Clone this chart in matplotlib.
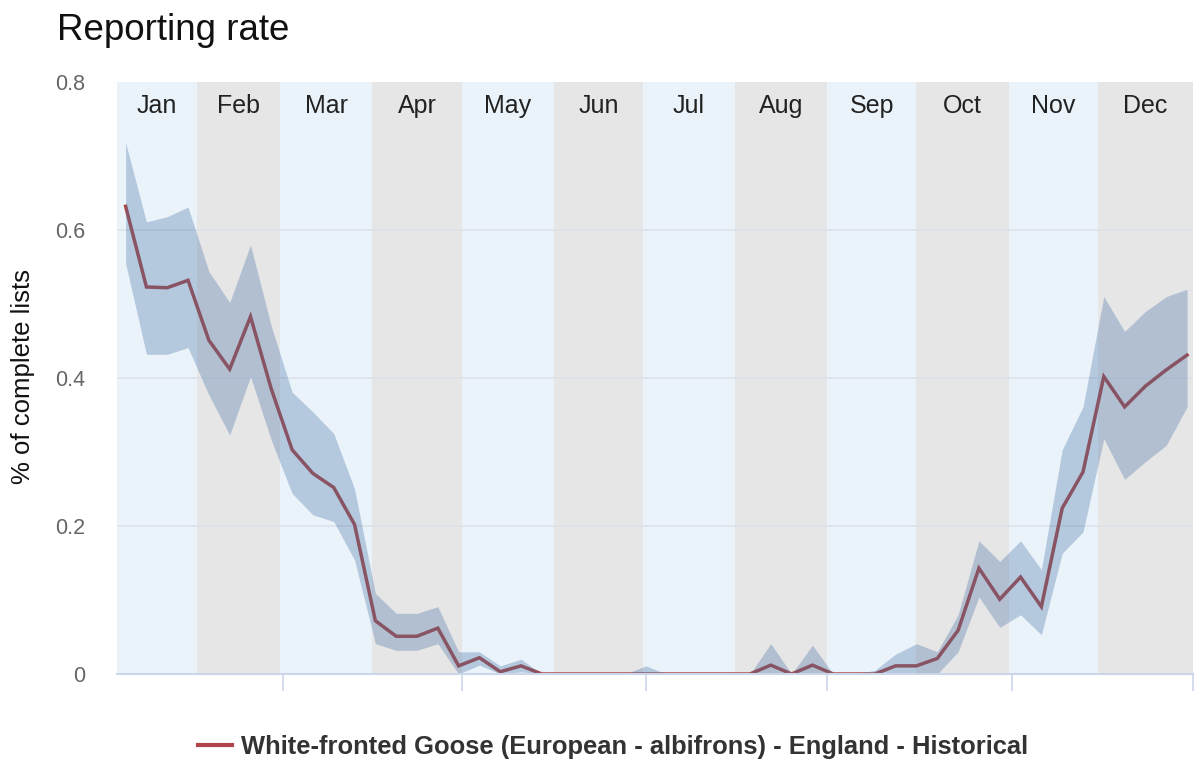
import matplotlib
matplotlib.use("Agg")
import matplotlib.pyplot as plt
from matplotlib.lines import Line2D
import numpy as np

plt.rcParams['font.family'] = ['Liberation Sans', 'DejaVu Sans']

# ---- data ----
months = ["Jan", "Feb", "Mar", "Apr", "May", "Jun", "Jul", "Aug", "Sep", "Oct", "Nov", "Dec"]
month_start_day = [4.1, 31, 59, 90, 120, 151, 181, 212, 243, 273, 304, 334, 366]
weeks = np.arange(1, 53)
rate = [0.632, 0.523, 0.522, 0.532, 0.451, 0.412, 0.483, 0.385, 0.303, 0.271,
        0.252, 0.202, 0.072, 0.051, 0.051, 0.062, 0.011, 0.022, 0.003, 0.011,
        0.0, 0.0, 0.0, 0.0, 0.0, 0.0, 0.0, 0.0, 0.0, 0.0,
        0.0, 0.012, 0.0, 0.012, 0.0, 0.0, 0.0, 0.011, 0.011, 0.021,
        0.059, 0.143, 0.101, 0.131, 0.091, 0.224, 0.273, 0.402, 0.361, 0.389,
        0.411, 0.431]
upper = [0.718, 0.611, 0.618, 0.631, 0.544, 0.502, 0.580, 0.470, 0.381, 0.354,
         0.325, 0.250, 0.109, 0.082, 0.082, 0.091, 0.030, 0.030, 0.011, 0.020,
         0.0, 0.0, 0.0, 0.0, 0.0, 0.011, 0.0, 0.0, 0.0, 0.0,
         0.0, 0.041, 0.0, 0.039, 0.0, 0.0, 0.005, 0.027, 0.041, 0.030,
         0.080, 0.180, 0.152, 0.180, 0.141, 0.303, 0.361, 0.510, 0.463, 0.490,
         0.510, 0.520]
lower = [0.555, 0.432, 0.432, 0.441, 0.377, 0.323, 0.402, 0.316, 0.244, 0.215,
         0.206, 0.154, 0.041, 0.032, 0.032, 0.041, 0.0, 0.012, 0.0, 0.003,
         0.0, 0.0, 0.0, 0.0, 0.0, 0.0, 0.0, 0.0, 0.0, 0.0,
         0.0, 0.0, 0.0, 0.0, 0.0, 0.0, 0.0, 0.002, 0.002, 0.0,
         0.030, 0.104, 0.063, 0.080, 0.053, 0.163, 0.192, 0.318, 0.263, 0.287,
         0.309, 0.361]
yticks = [0, 0.2, 0.4, 0.6, 0.8]
ytick_labels = ["0", "0.2", "0.4", "0.6", "0.8"]
xtick_days = [60, 120, 182, 243, 305, 366]
series_name = "White-fronted Goose (European - albifrons) - England - Historical"

days = weeks * 7

W, H = 1197, 763
fig = plt.figure(figsize=(W / 100, H / 100), dpi=100)
ax = fig.add_axes([117 / W, 1 - 674 / H, (1193 - 117) / W, (674 - 82) / H])

band_colors = ["#EBF3FA", "#E6E6E6"]
for i, m in enumerate(months):
    a, b = month_start_day[i], month_start_day[i + 1]
    ax.axvspan(a, b, color=band_colors[i % 2], lw=0, zorder=0)
    ax.text((a + b) / 2, 0.9476, m, transform=ax.get_xaxis_transform(),
            ha="center", va="baseline", fontsize=18, color="#222222", zorder=5)

for yv in yticks[1:-1]:
    ax.axhline(yv, color="#DCE2E9", lw=1.2, zorder=1)

ax.plot(days, rate, color="#AA4643", lw=2.5, zorder=2, solid_joinstyle="miter")
ax.fill_between(days, lower, upper, color="#4572A7", alpha=0.33, lw=0, zorder=3)

ax.set_xlim(4.1, 366)
ax.set_ylim(0, 0.8)
ax.set_yticks(yticks)
ax.set_yticklabels(ytick_labels)
ax.set_xticks(xtick_days)
ax.set_xticklabels([])
ax.tick_params(axis="y", length=0, pad=23, labelsize=15.5, labelcolor="#666666")
ax.tick_params(axis="x", length=12, width=1.2, color="#CCD6EB", direction="out")
for s in ["left", "right", "top"]:
    ax.spines[s].set_visible(False)
ax.spines["bottom"].set_color("#CCD6EB")
ax.spines["bottom"].set_linewidth(1.5)
ax.spines["bottom"].set_zorder(4)

fig.text(57 / W, 1 - 40 / H, "Reporting rate", fontsize=26.5, color="#111111",
         ha="left", va="baseline")
fig.text(23 / W, 1 - 377 / H, "% of complete lists", fontsize=18.5, rotation=90,
         ha="center", va="center", color="#111111")

handle = Line2D([], [], color="#B0464A", lw=3)
fig.legend(handles=[handle], labels=[series_name], loc="center",
           bbox_to_anchor=(613 / W, 1 - 747 / H), frameon=False,
           prop={"weight": "bold", "size": 18.4}, labelcolor="#333333",
           handlelength=1.33, handletextpad=0.35)

fig.savefig("out.png", dpi=100, facecolor="white")
